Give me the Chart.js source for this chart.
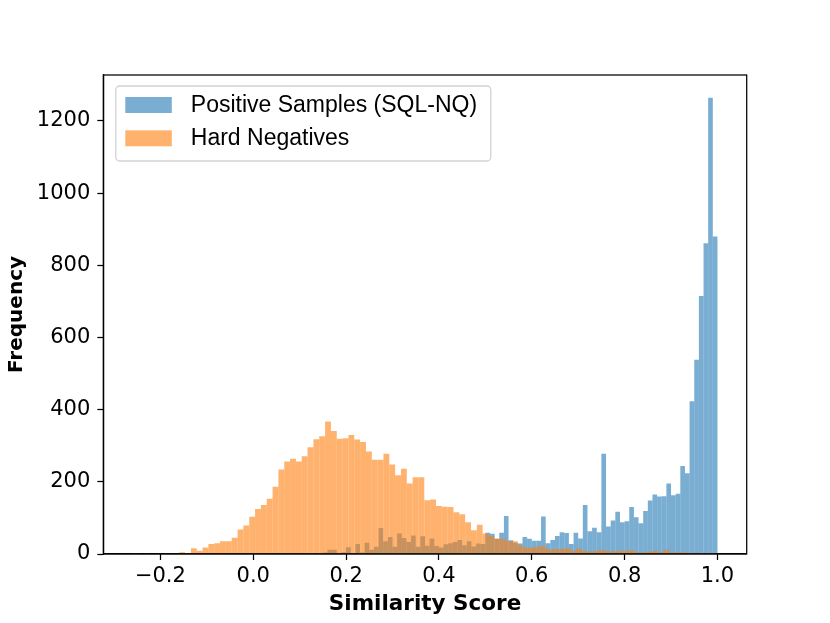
<!DOCTYPE html>
<html>
<head>
<meta charset="utf-8">
<script src="https://cdn.jsdelivr.net/npm/chart.js@4.4.0/dist/chart.umd.min.js"></script>
<style>
  html, body { margin: 0; padding: 0; background: #fff; }
  canvas { display: block; }
</style>
</head>
<body>
<canvas id="myChart" width="830" height="623"></canvas>
<script>
// histogram counts, 100 bins each
const posLabel = "Positive Samples (SQL-NQ)";
const posRange = [0.0, 1.0];
const posCounts = [
  1, 0, 0, 0, 0, 0, 0, 0, 0, 0,
  0, 1, 1, 2, 3, 4, 12, 12, 3, 5,
  19, 2, 28, 4, 31, 12, 20, 72, 35, 47,
  20, 57, 44, 33, 51, 20, 49, 23, 43, 22,
  18, 27, 30, 33, 39, 24, 35, 21, 29, 28,
  59, 56, 42, 59, 105, 38, 31, 29, 47, 42,
  37, 37, 104, 30, 39, 50, 60, 58, 28, 59,
  43, 136, 63, 73, 60, 278, 76, 93, 117, 88,
  91, 130, 102, 85, 119, 148, 165, 159, 160, 195,
  163, 167, 244, 224, 423, 538, 715, 861, 1264, 880
];

const hnLabel = "Hard Negatives";
const hnRange = [-0.26, 0.997];
const hnCounts = [
  1, 0, 1, 0, 1, 1, 1, 2, 5, 3,
  16, 9, 18, 28, 30, 35, 35, 45, 68, 79,
  103, 125, 136, 153, 186, 234, 256, 264, 256, 271,
  296, 318, 326, 367, 341, 319, 321, 330, 317, 310,
  284, 261, 261, 278, 248, 218, 236, 195, 213, 213,
  149, 151, 133, 131, 130, 116, 110, 88, 66, 81,
  57, 50, 42, 42, 35, 35, 24, 17, 17, 21,
  21, 12, 14, 14, 16, 9, 15, 8, 7, 8,
  12, 8, 7, 9, 9, 11, 5, 5, 6, 8,
  5, 12, 4, 5, 4, 3, 4, 3, 3, 2
];

const xTicks = [-0.2, 0.0, 0.2, 0.4, 0.6, 0.8, 1.0];
const yTicks = [0, 200, 400, 600, 800, 1000, 1200];

const xMin = -0.323, xMax = 1.063;
const yMax = 1327.2;

function toPoints(range, counts) {
  const w = (range[1] - range[0]) / counts.length;
  return counts.map((c, i) => ({ x: range[0] + (i + 0.5) * w, y: c }));
}

const blue = "rgba(31, 119, 180, 0.6)";
const orange = "rgba(255, 127, 14, 0.6)";

const tickFont = { family: "DejaVu Sans", size: 21 };

const axisGrid = {
  display: true,
  offset: false,
  drawOnChartArea: false,
  drawTicks: true,
  tickLength: 6,
  tickWidth: 1.25,
  tickColor: "#000",
};

const framePlugin = {
  id: "frame",
  afterDraw(chart) {
    const { ctx, chartArea: a } = chart;
    ctx.save();
    ctx.strokeStyle = "#000";
    ctx.lineWidth = 1.25;
    ctx.strokeRect(a.left, a.top, a.right - a.left, a.bottom - a.top);
    ctx.restore();
  },
};

const legendPlugin = {
  id: "boxLegend",
  afterDraw(chart) {
    const { ctx, chartArea: a } = chart;
    const bx = a.left + 12.5, by = a.top + 11, bw = 375, bh = 75;
    ctx.save();
    ctx.beginPath();
    ctx.roundRect(bx, by, bw, bh, 4);
    ctx.fillStyle = "rgba(255,255,255,0.8)";
    ctx.fill();
    ctx.strokeStyle = "#d2d2d2";
    ctx.lineWidth = 1.3;
    ctx.stroke();
    ctx.font = "23px 'Liberation Sans'";
    ctx.textBaseline = "middle";
    ctx.textAlign = "left";
    chart.data.datasets.forEach((ds, i) => {
      const sy = by + 11 + i * 33.3;
      ctx.fillStyle = ds.backgroundColor;
      ctx.fillRect(bx + 9.5, sy, 46.5, 16);
      ctx.fillStyle = "#000";
      ctx.fillText(ds.label, bx + 75, sy + 8.5);
    });
    ctx.restore();
  },
};

const data = {
  datasets: [
    {
      label: posLabel,
      data: toPoints(posRange, posCounts),
      xAxisID: "x",
      backgroundColor: blue,
      borderWidth: 0,
      inflateAmount: 0,
      barPercentage: 1,
      categoryPercentage: 1,
      grouped: false,
      order: 2,
    },
    {
      label: hnLabel,
      data: toPoints(hnRange, hnCounts),
      xAxisID: "x2",
      backgroundColor: orange,
      borderWidth: 0,
      inflateAmount: 0,
      barPercentage: 1,
      categoryPercentage: 1,
      grouped: false,
      order: 1,
    },
  ],
};

const config = {
  type: "bar",
  data: data,
  options: {
    responsive: false,
    animation: false,
    devicePixelRatio: 1,
    layout: { padding: { left: 0, right: 83.3, top: 75, bottom: 0 } },
    plugins: {
      legend: { display: false },
      tooltip: { enabled: false },
    },
    scales: {
      x: {
        type: "linear",
        position: "bottom",
        min: xMin,
        max: xMax,
        offset: false,
        grid: axisGrid,
        border: { display: true, color: "#000", width: 1.25 },
        afterBuildTicks: (axis) => { axis.ticks = xTicks.map((v) => ({ value: v })); },
        afterFit: (axis) => { axis.height = 69; },
        ticks: {
          font: tickFont,
          color: "#000",
          padding: 4,
          maxRotation: 0,
          autoSkip: false,
          callback: (v) => v.toFixed(1).replace("-", "\u2212"),
        },
        title: {
          display: true,
          text: "Similarity Score",
          font: { family: "DejaVu Sans", size: 21.5, weight: "bold" },
          color: "#000",
          padding: { top: 0, bottom: 6 },
        },
      },
      x2: {
        type: "linear",
        display: false,
        min: xMin,
        max: xMax,
        offset: false,
      },
      y: {
        type: "linear",
        min: 0,
        max: yMax,
        grid: axisGrid,
        border: { display: true, color: "#000", width: 1.25 },
        afterBuildTicks: (axis) => { axis.ticks = yTicks.map((v) => ({ value: v })); },
        afterFit: (axis) => { axis.width = 103.3; },
        ticks: {
          font: tickFont,
          color: "#000",
          padding: 7,
          callback: (v) => String(v),
        },
        title: {
          display: true,
          text: "Frequency",
          font: { family: "DejaVu Sans", size: 20, weight: "bold" },
          color: "#000",
          padding: { top: 5, bottom: 0 },
        },
      },
    },
  },
  plugins: [framePlugin, legendPlugin],
};

const myChart = new Chart(document.getElementById("myChart"), config);
</script>
</body>
</html>
